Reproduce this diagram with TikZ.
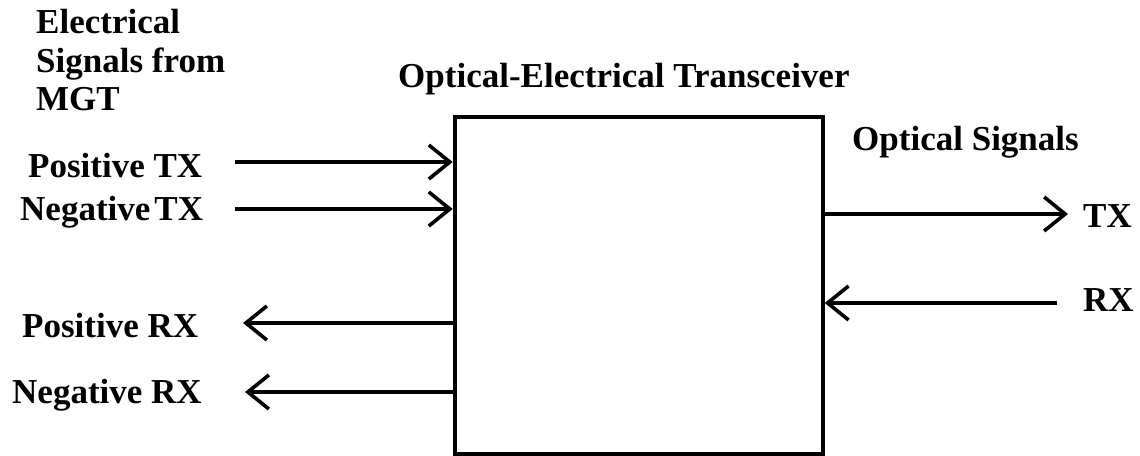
\documentclass[tikz,border=0pt]{standalone}
\usepackage{fontspec}
\setmainfont{Liberation Serif}
\usetikzlibrary{arrows.meta}
\begin{document}
\begin{tikzpicture}[x=1pt,y=-1pt,
  lbl/.style={font=\fontsize{35}{38}\selectfont\bfseries, inner sep=0pt, anchor=base west},
  wire/.style={line width=3.6pt, -{Straight Barb[length=21pt,width=34pt]}},
  boxst/.style={draw, line width=4pt, inner sep=0pt, minimum width=368pt, minimum height=337pt, anchor=north west}]
\useasboundingbox (0,0) rectangle (1140,455);
\node[boxst] (box) at (452.7,115.3) {};
% labels
\node[lbl] (l1) at (36,33) {Electrical};
\node[lbl] (l2) at (36,72) {Signals from};
\node[lbl] (l3) at (36,110) {MGT};
\node[lbl] (title) at (398,87) {Optical-Electrical Transceiver};
\node[lbl] (opt) at (852,150) {Optical Signals};
\node[lbl] (ptx) at (28,177) {Positive TX};
\node[lbl] (ntx) at (20,220) {Negative\hspace{4pt}TX};
\node[lbl] (prx) at (22,337) {Positive RX};
\node[lbl] (nrx) at (12,403) {Negative RX};
\node[lbl] (otx) at (1083,227) {TX};
\node[lbl] (orx) at (1083,311) {RX};
% connector ends
\coordinate (a1) at (235,162);
\coordinate (a2) at (235,209);
\coordinate (a3) at (243,323);
\coordinate (a4) at (245,392);
\coordinate (a5) at (1068,214);
\coordinate (a6) at (1057,303);
\draw[wire] (a1) -- (a1 -| box.west);
\draw[wire] (a2) -- (a2 -| box.west);
\draw[wire] (a3 -| box.west) -- (a3);
\draw[wire] (a4 -| box.west) -- (a4);
\draw[wire] (a5 -| box.east) -- (a5);
\draw[wire] (a6) -- (a6 -| box.east);
\end{tikzpicture}
\end{document}
